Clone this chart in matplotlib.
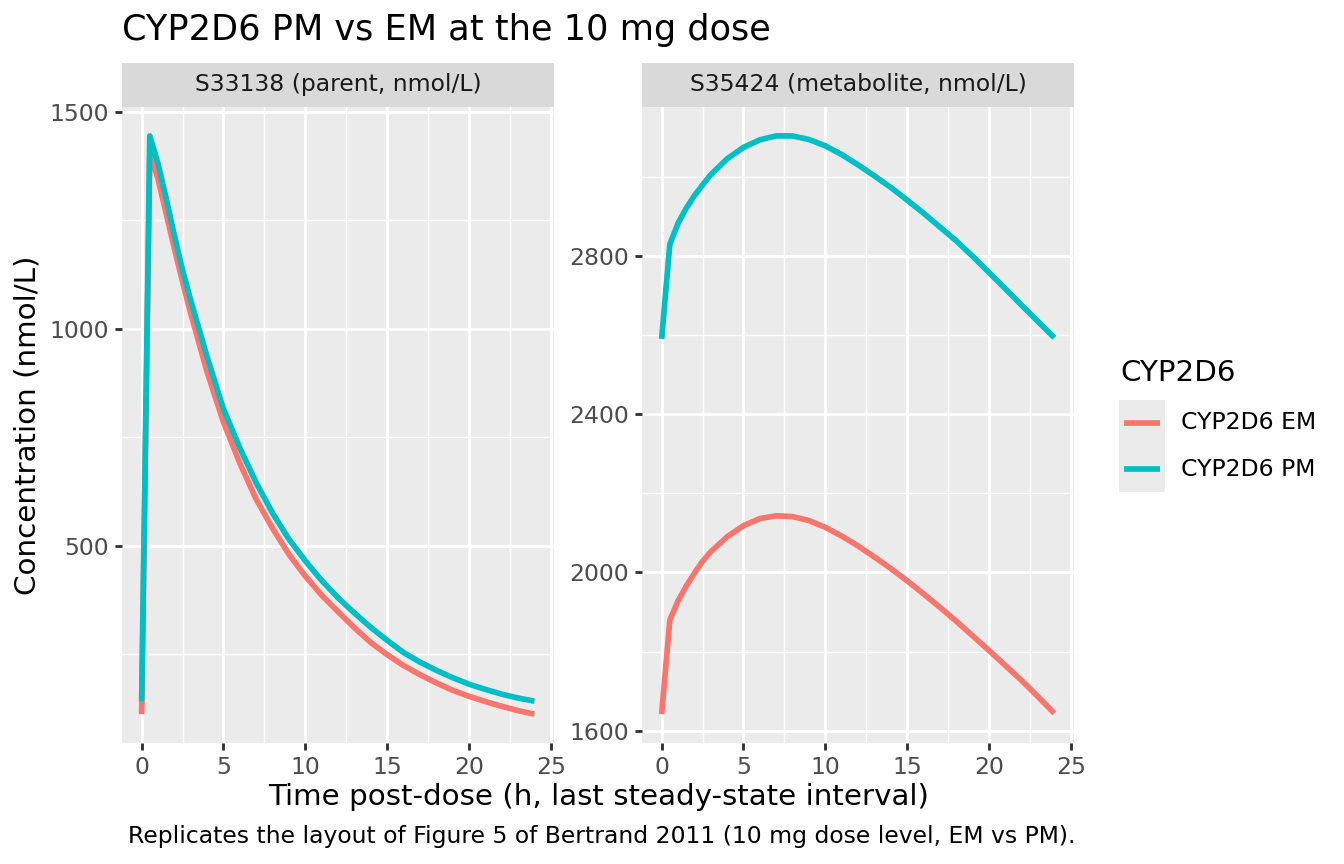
import matplotlib
matplotlib.use("Agg")
import matplotlib.pyplot as plt
from matplotlib.ticker import FixedLocator

# time grid (h, last steady-state interval)
time_h = [0, 0.5, 1, 1.5, 2, 2.5, 3, 4, 5, 6, 7, 8, 9, 10, 11, 12, 13, 14, 15, 16,
          17, 18, 19, 20, 21, 22, 23, 24]

# S33138 parent, nmol/L
parent_em = [112, 1405, 1345, 1265, 1185, 1108, 1035, 900, 785, 690, 607, 540, 480, 430,
             386, 348, 311, 277, 249, 224, 203, 184, 167, 153, 141, 130, 120, 112]
parent_pm = [142, 1444, 1380, 1300, 1215, 1135, 1065, 935, 815, 725, 645, 575, 515, 465,
             420, 380, 345, 312, 282, 254, 232, 213, 196, 181, 169, 158, 149, 142]

# S35424 metabolite, nmol/L
metab_em = [1642, 1879, 1928, 1965, 1998, 2028, 2052, 2090, 2118, 2136, 2143, 2141, 2131, 2114,
            2092, 2067, 2039, 2010, 1979, 1946, 1912, 1877, 1840, 1803, 1765, 1727, 1686, 1644]
metab_pm = [2590, 2829, 2882, 2920, 2952, 2979, 3005, 3045, 3074, 3093, 3103, 3103, 3094, 3078,
            3056, 3030, 3002, 2973, 2941, 2908, 2873, 2838, 2799, 2758, 2717, 2675, 2634, 2593]

groups = ["CYP2D6 EM", "CYP2D6 PM"]
colors = {"CYP2D6 EM": "#F8766D", "CYP2D6 PM": "#00BFC4"}

panels = [
    ("S33138 (parent, nmol/L)", {"CYP2D6 EM": parent_em, "CYP2D6 PM": parent_pm},
     [500, 1000, 1500], [250, 750, 1250]),
    ("S35424 (metabolite, nmol/L)", {"CYP2D6 EM": metab_em, "CYP2D6 PM": metab_pm},
     [1600, 2000, 2400, 2800], [1800, 2200, 2600, 3000]),
]

W, H = 1344, 864
fig = plt.figure(figsize=(7, 4.5), dpi=192)
fig.patch.set_facecolor("white")

def fx(px):
    return px / W

def fy(py):
    return 1 - py / H

panel_left = [122, 642]
panel_w = 432
panel_top, panel_bottom = 107, 743
strip_top = 62.5

for (strip, series, yticks, yminor), left in zip(panels, panel_left):
    ax = fig.add_axes([fx(left), fy(panel_bottom), panel_w / W, (panel_bottom - panel_top) / H])
    ax.set_facecolor("#EBEBEB")
    for g in groups:
        ax.plot(time_h, series[g], color=colors[g], lw=2.13, solid_capstyle="butt",
                solid_joinstyle="round", zorder=3)
    ax.margins(x=0.05, y=0.05)
    ax.xaxis.set_major_locator(FixedLocator([0, 5, 10, 15, 20, 25]))
    ax.xaxis.set_minor_locator(FixedLocator([2.5, 7.5, 12.5, 17.5, 22.5]))
    ax.yaxis.set_major_locator(FixedLocator(yticks))
    ax.yaxis.set_minor_locator(FixedLocator(yminor))
    ax.grid(which="major", color="white", lw=1.07)
    ax.grid(which="minor", color="white", lw=0.53)
    ax.set_axisbelow(True)
    for s in ax.spines.values():
        s.set_visible(False)
    ax.tick_params(which="major", length=2.75, width=1.07, color="#333333",
                   labelcolor="#4D4D4D", labelsize=8.8, pad=2.2)
    ax.tick_params(which="minor", length=0)

    sax = fig.add_axes([fx(left), fy(panel_top), panel_w / W, (panel_top - strip_top) / H])
    sax.set_facecolor("#D9D9D9")
    sax.set_xticks([])
    sax.set_yticks([])
    for s in sax.spines.values():
        s.set_visible(False)
    sax.text(0.5, 0.5, strip, ha="center", va="center", fontsize=8.8, color="#1A1A1A",
             transform=sax.transAxes)

fig.text(fx(122), fy(30), "CYP2D6 PM vs EM at the 10 mg dose", fontsize=13.2,
         ha="left", va="center", color="black")
fig.text(fx(28), fy(425), "Concentration (nmol/L)", rotation=90, fontsize=11,
         ha="center", va="center")
fig.text(fx(598.5), fy(797), "Time post-dose (h, last steady-state interval)", fontsize=11,
         ha="center", va="center")
fig.text(fx(1075), fy(836),
         "Replicates the layout of Figure 5 of Bertrand 2011 (10 mg dose level, EM vs PM).",
         fontsize=8.8, ha="right", va="center")

# legend
fig.text(fx(1120), fy(373), "CYP2D6", fontsize=11, ha="left", va="center")
key_h = 46
lax = fig.add_axes([fx(1119), fy(400 + 2 * key_h), 46 / W, 2 * key_h / H])
lax.set_facecolor("#EBEBEB")
lax.set_xlim(0, 1)
lax.set_ylim(0, 2)
lax.set_xticks([])
lax.set_yticks([])
for s in lax.spines.values():
    s.set_visible(False)
for i, g in enumerate(groups):
    yc = 1.5 - i
    lax.plot([0.1, 0.9], [yc, yc], color=colors[g], lw=2.13, solid_capstyle="butt")
    fig.text(fx(1181), fy(400 + key_h * (i + 0.5)), g, fontsize=8.8, ha="left", va="center")

fig.savefig("out.png", dpi=192)
